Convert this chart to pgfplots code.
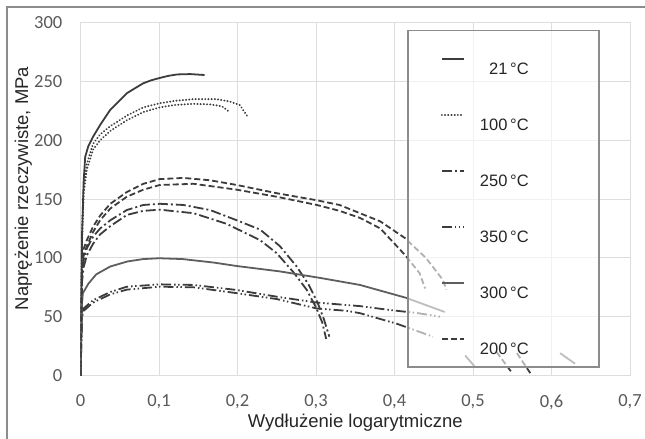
\documentclass[border=0pt]{standalone}
\usepackage{fontspec}
\setmainfont{Liberation Sans}
\newfontfamily\tickfont{Carlito}
\usepackage{pgfplots}
\pgfplotsset{compat=1.18}
\definecolor{dk}{HTML}{3C3C3C}
\definecolor{md}{HTML}{5E5E5E}
\definecolor{gridc}{HTML}{DDDDDD}
\definecolor{tickc}{HTML}{595959}
\definecolor{framec}{HTML}{8C8C8C}
\newcommand\LE[1]{\makebox[130bp][l]{\makebox[60bp][r]{\raisebox{-18bp}{#1}}}}
\pgfplotsset{
  sA/.style={dk, line width=1.8bp, solid},
  sB/.style={dk, line width=2bp, line cap=round, dash pattern=on 0.2bp off 3bp},
  sC/.style={dk, line width=1.8bp, dash pattern=on 10bp off 3bp on 2bp off 3bp},
  sD/.style={dk, line width=1.8bp, dash pattern=on 10bp off 3bp on 1.5bp off 2.5bp on 1.5bp off 3bp},
  sE/.style={md, line width=1.8bp, solid},
  sF/.style={dk, line width=1.8bp, dash pattern=on 6bp off 3bp},
}
\begin{document}
\begin{tikzpicture}[x=1bp,y=1bp]
\path[use as bounding box] (0,0) rectangle (645,439);
\draw[framec, line width=1.5bp] (7,0) -- (7,432) -- (645,432);
\begin{axis}[
  at={(80.5bp,63.5bp)}, anchor=south west,
  scale only axis, width=549.5bp, height=352.8bp,
  xmin=0, xmax=0.7, ymin=0, ymax=300,
  xtick={0,0.1,0.2,0.3,0.4,0.5,0.6,0.7},
  ytick={0,50,100,150,200,250,300},
  /pgf/number format/assume math mode=true,
  /pgf/number format/use comma,
  xticklabel style={/pgf/number format/fixed, /pgf/number format/precision=1},
  tick style={draw=none}, major tick length=0pt,
  grid=major, major grid style={gridc, line width=1bp},
  axis line style={gridc, line width=1bp},
  tick label style={font=\tickfont\fontsize{18.5bp}{20bp}\selectfont, text=tickc},
  yticklabel style={anchor=east, inner sep=0pt, xshift=-18bp},
  xticklabel style={anchor=north, inner sep=0pt, yshift=-19bp},
  xlabel={Wydłużenie logarytmiczne},
  ylabel={Naprężenie rzeczywiste, MPa},
  label style={font=\fontsize{18.5bp}{22bp}\selectfont, text=black!85},
  xlabel style={at={(axis description cs:0.5,0)}, anchor=base, yshift=-52.5bp},
  ylabel style={at={(axis description cs:-0.0954,0.53)}, anchor=base},
  no markers,
  legend style={at={(axis description cs:0.5942,0.9793)}, anchor=north west,
    draw=framec, line width=1.5bp, fill=white, fill opacity=0.6, draw opacity=1, text opacity=1,
    inner sep=0pt, row sep=0pt, column sep=0pt,
    font=\fontsize{16.5bp}{19bp}\selectfont, text=black!85,
    nodes={inner sep=0pt, text height=25.4bp, text depth=30.6bp}},
  legend image code/.code={\path[draw=none, fill=none] (-34bp,-1bp) rectangle (27bp,1bp); \draw[#1] (0bp,0bp) -- (22bp,0bp);},
]
% 21 C
\addplot[sA] coordinates {(0,0) (0.002,120) (0.004,165) (0.006,186) (0.010,195) (0.016,203) (0.025,213) (0.038,226) (0.05,234) (0.059,240) (0.07,244.5) (0.080,248.5) (0.09,251) (0.101,253) (0.112,254.8) (0.123,256) (0.14,256.3) (0.158,255.5)};
\addlegendentry{\LE{21\,°C}}
% 100 C
\addplot[sB] coordinates {(0,0) (0.002,120) (0.004,160) (0.008,180) (0.016,197) (0.025,205) (0.038,212) (0.059,221) (0.080,228) (0.101,231.5) (0.12,233.5) (0.144,235) (0.173,235) (0.19,233) (0.203,230) (0.212,221)};
\addlegendentry{\LE{100\,°C}}
\addplot[sB, forget plot] coordinates {(0,0) (0.002,115) (0.004,155) (0.008,175) (0.016,192) (0.025,200) (0.038,208) (0.059,217) (0.080,224) (0.101,228) (0.12,230) (0.144,231) (0.165,230.5) (0.18,229) (0.188,225)};
% 250 C
\addplot[sC] coordinates {(0,0) (0.002,85) (0.004,98) (0.008,108) (0.016,118) (0.025,125) (0.038,132) (0.059,140.7) (0.08,145) (0.101,146) (0.131,145) (0.165,140.7) (0.199,132) (0.229,124) (0.254,110) (0.275,93) (0.29,78) (0.302,62) (0.31,48) (0.317,33)};
\addlegendentry{\LE{250\,°C}}
\addplot[sC, forget plot] coordinates {(0,0) (0.002,80) (0.004,92) (0.008,102) (0.016,112) (0.025,120) (0.038,127) (0.059,136.5) (0.08,140) (0.101,141) (0.144,138) (0.186,129) (0.229,115) (0.25,104) (0.271,88) (0.288,73) (0.3,58) (0.308,45) (0.313,31)};
% 350 C
\addplot[sD] coordinates {(0,0) (0.002,52) (0.004,57) (0.016,64) (0.038,71) (0.059,75.5) (0.101,77.5) (0.144,77) (0.199,72.7) (0.25,67) (0.301,62) (0.356,59) (0.394,55.7) (0.43,53) (0.458,50)};
\addlegendentry{\LE{350\,°C}}
\addplot[sD, forget plot] coordinates {(0,0) (0.002,50) (0.004,55) (0.016,62) (0.038,69) (0.059,73) (0.101,75.5) (0.144,75) (0.199,70) (0.25,65) (0.301,57) (0.339,55) (0.356,53) (0.403,44) (0.449,33)};
% 300 C
\addplot[sE] coordinates {(0,0) (0.002,62) (0.003,70) (0.01,78) (0.02,86) (0.038,92.7) (0.06,97) (0.08,99) (0.1,99.7) (0.13,99) (0.17,96) (0.2,93) (0.254,88.5) (0.305,83) (0.356,77) (0.415,66) (0.464,54)};
\addlegendentry{\LE{300\,°C}}
% 200 C
\addplot[sF] coordinates {(0,0) (0.002,95) (0.0036,107) (0.008,115) (0.016,126.5) (0.025,136) (0.038,146) (0.059,156) (0.08,163) (0.101,167) (0.131,168) (0.165,166) (0.199,162) (0.25,155) (0.301,149) (0.33,145) (0.356,138) (0.382,131) (0.413,117) (0.44,100) (0.462,81) (0.466,73)};
\addlegendentry{\LE{200\,°C}}
\addplot[sF, forget plot] coordinates {(0,0) (0.002,90) (0.0036,101) (0.008,110) (0.016,122) (0.025,132) (0.038,142) (0.059,152) (0.08,158) (0.101,162) (0.144,163) (0.199,158) (0.25,152) (0.301,145) (0.33,140) (0.356,134) (0.382,125) (0.414,102) (0.432,87) (0.439,74)};
% fracture tails
\addplot[sE, forget plot] coordinates {(0.49,17) (0.503,7)};
\addplot[sF, forget plot] coordinates {(0.53,20) (0.55,2)};
\addplot[sF, forget plot] coordinates {(0.556,19) (0.573,2)};
\addplot[sE, forget plot] coordinates {(0.611,19) (0.63,10)};
\end{axis}
\end{tikzpicture}
\end{document}
